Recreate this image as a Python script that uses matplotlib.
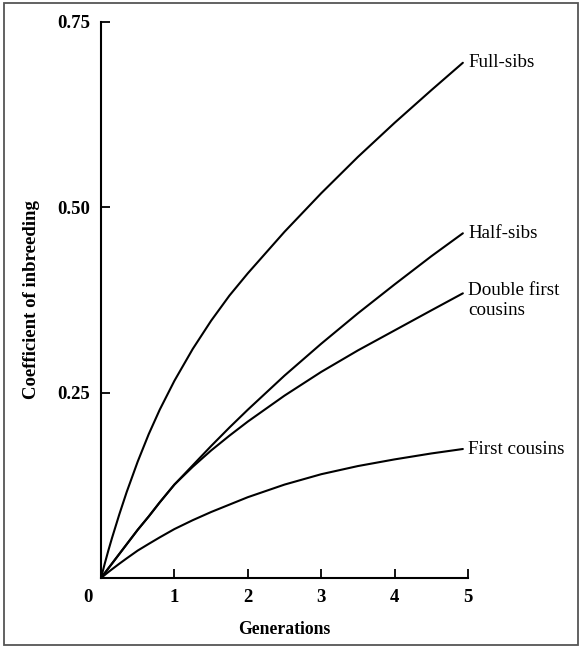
import matplotlib
matplotlib.use("Agg")
import matplotlib.pyplot as plt
from matplotlib.patches import Rectangle
import matplotlib.transforms as mtransforms

# ---- data ----
gens = [0, 0.05, 0.1, 0.15, 0.25, 0.35, 0.5, 0.65, 0.8, 1, 1.25, 1.5, 1.75, 2, 2.5, 3, 3.5, 4, 4.5, 4.93]
full_sibs = [0, 0.019, 0.037, 0.054, 0.086, 0.116, 0.157, 0.194, 0.227, 0.266, 0.309, 0.347, 0.381, 0.411,
             0.467, 0.519, 0.568, 0.614, 0.658, 0.695]
half_sibs = [0, 0.0065, 0.013, 0.0195, 0.0325, 0.0455, 0.065, 0.083, 0.102, 0.126, 0.152, 0.178, 0.203, 0.227,
             0.273, 0.316, 0.357, 0.396, 0.434, 0.465]
double_first = [0, 0.0065, 0.013, 0.0195, 0.0325, 0.0455, 0.065, 0.083, 0.102, 0.126, 0.150, 0.172, 0.192, 0.211,
                0.246, 0.278, 0.307, 0.334, 0.361, 0.384]
first_cousins = [0, 0.004, 0.008, 0.0118, 0.0193, 0.0265, 0.037, 0.046, 0.0548, 0.066, 0.078, 0.089, 0.099, 0.109,
                 0.126, 0.140, 0.151, 0.160, 0.168, 0.174]

series = [full_sibs, half_sibs, double_first, first_cousins]
labels = ["Full-sibs", "Half-sibs", "Double first\ncousins", "First cousins"]

xticks = [0, 1, 2, 3, 4, 5]
xticklabels = ["0", "1", "2", "3", "4", "5"]
yticks = [0.25, 0.50, 0.75]
yticklabels = ["0.25", "0.50", "0.75"]

serif = ["Liberation Serif", "DejaVu Serif"]

W, H = 582, 648
fig = plt.figure(figsize=(W / 100, H / 100), dpi=100)
ax = fig.add_axes([101 / W, (H - 578) / H, (468 - 101) / W, (578 - 22) / H])

for s, lab in zip(series, labels):
    ax.plot(gens, s, color="black", lw=1.5, solid_capstyle="round", solid_joinstyle="round")
    multi = "\n" in lab
    ax.annotate(lab, xy=(gens[-1], s[-1]), xytext=(4, 8 if multi else 0), textcoords="offset points",
                ha="left", va="top" if multi else "center",
                fontsize=13.7, family=serif, color="black",
                linespacing=1.2)

ax.set_xlim(0, 5)
ax.set_ylim(0, 0.75)
for side in ("top", "right"):
    ax.spines[side].set_visible(False)
for side in ("left", "bottom"):
    ax.spines[side].set_linewidth(1.5)

ax.set_xticks(xticks)
ax.set_xticklabels(xticklabels, family=serif, fontsize=13.5, fontweight="bold")
ax.set_yticks(yticks)
ax.set_yticklabels(yticklabels, family=serif, fontsize=13.5, fontweight="bold")
ax.tick_params(axis="both", direction="in", length=6.5, width=1.3, pad=8)

# shift the "0" label to sit below-left of the origin
lab0 = ax.get_xticklabels()[0]
lab0.set_transform(lab0.get_transform() + mtransforms.ScaledTranslation(-13 / 100, 0, fig.dpi_scale_trans))

ax.set_xlabel("Generations", family=serif, fontsize=12.7, fontweight="bold", labelpad=11)
ax.set_ylabel("Coefficient of inbreeding", family=serif, fontsize=13.5, fontweight="bold", labelpad=12)

# frame around the figure
fig.patches.append(Rectangle((4 / W, 3 / H), (578 - 4) / W, (645 - 3) / H, transform=fig.transFigure,
                             fill=False, edgecolor="#555555", lw=1.3))

fig.savefig("out.png", dpi=100)
